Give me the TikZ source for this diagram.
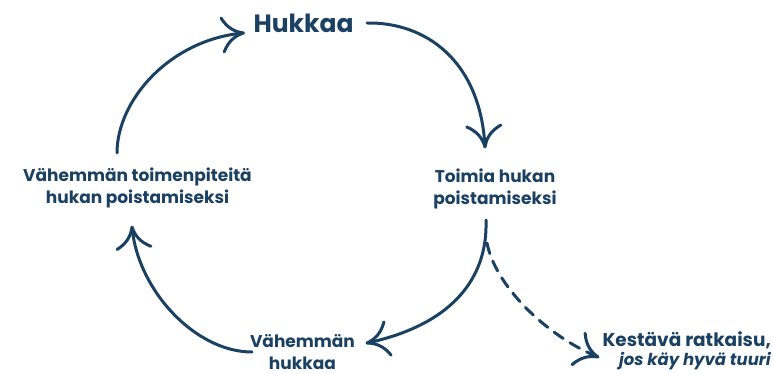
\documentclass[tikz,border=0pt]{standalone}
\usepackage{fontspec}
\setmainfont{Poppins}
\usetikzlibrary{arrows.meta,calc}
\definecolor{navy}{HTML}{1B4162}

% hand-drawn open arrow head: two barbs that hug the shaft and flare out
\pgfdeclarearrow{
  name = Flick,
  parameters = {\the\pgfarrowlength},
  setup code = {
    \pgfarrowssettipend{0pt}
    \pgfarrowssetbackend{-\pgfarrowlength}
    \pgfarrowssetlineend{-1pt}
    \pgfarrowssavethe\pgfarrowlength
  },
  drawing code = {
    \pgfsetdash{}{0pt}
    \pgfsetroundcap
    \pgfsetroundjoin
    \pgfpathmoveto{\pgfqpoint{-21pt}{17pt}}
    \pgfpathcurveto{\pgfqpoint{-16pt}{7pt}}{\pgfqpoint{-9pt}{2pt}}{\pgfqpoint{0pt}{0pt}}
    \pgfpathcurveto{\pgfqpoint{-9pt}{-2pt}}{\pgfqpoint{-16pt}{-7pt}}{\pgfqpoint{-21pt}{-17pt}}
    \pgfusepathqstroke
  },
  defaults = {length = 21pt}
}

\tikzset{
  label/.style={text=navy, font=\bfseries\fontsize{17}{22}\selectfont, align=center, inner sep=0pt},
  flow/.style={draw=navy, line width=3pt, line cap=round, -{Flick}},
  maybe/.style={flow, dash pattern=on 11pt off 8pt}
}
\begin{document}
\begin{tikzpicture}[x=1pt, y=-1pt]
  \useasboundingbox (0,0) rectangle (773,374);

  % the five stages of the loop
  \node[label, font=\bfseries\fontsize{25}{30}\selectfont, anchor=base] (waste) at (303.5,33) {Hukkaa};
  \node[label] (act) at (495,189) {Toimia hukan\\poistamiseksi};
  \node[label] (less) at (302.5,352) {Vähemmän\\hukkaa};
  \node[label] (fewer) at (137.5,188) {Vähemmän toimenpiteitä\\hukan poistamiseksi};
  \node[label, align=right, anchor=east, font=\bfseries\fontsize{18.5}{19}\selectfont] (lasting) at (771,351)
    {Kestävä ratkaisu,\\{\itshape\fontsize{16.5}{15}\selectfont jos käy hyvä tuuri}};

  % connectors
  \draw[flow] ($(fewer.center)+(-20.5,-35)$) .. controls (117,100) and (170,40) .. ($(waste.base)+(-60,0)$);
  \draw[flow] ($(waste.base)+(63.5,-10)$) .. controls (425,22) and (480,60) .. ($(act.center)+(-10,-42)$);
  \draw[flow] ($(act.center)+(-9,31)$) .. controls (488,280) and (450,325) .. ($(less.center)+(64.5,-9)$);
  \draw[maybe] ($(act.center)+(-8,54)$) .. controls (495,285) and (545,335) .. ($(lasting.east)+(-173,6)$);
  \draw[flow] ($(less.center)+(-50.5,0)$) .. controls (195,352) and (138,290) .. ($(fewer.center)+(-5.5,39)$);
\end{tikzpicture}
\end{document}
